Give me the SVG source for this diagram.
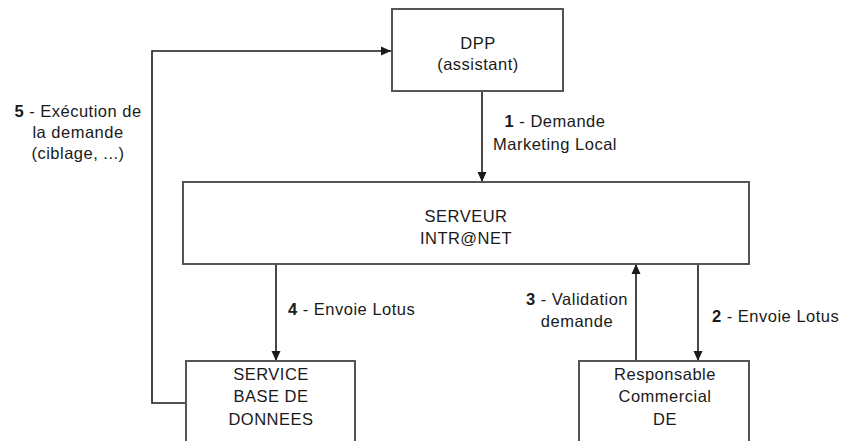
<svg xmlns="http://www.w3.org/2000/svg" width="842" height="441" viewBox="0 0 842 441">
<style>
.box{fill:#fff;stroke:#555;stroke-width:2}
.t{font-family:"Liberation Sans",Arial,sans-serif;font-size:16.5px;letter-spacing:0.5px;fill:#1a1a1a}
.m{text-anchor:middle}
.b{font-weight:bold}
.c{fill:none;stroke:#1a1a1a;stroke-width:1.6}
</style>
<defs>
<marker id="ah" viewBox="0 0 10 10" refX="10" refY="5" markerWidth="10" markerHeight="10" markerUnits="userSpaceOnUse" orient="auto">
<path d="M0,0.5 L10,5 L0,9.5 Z" fill="#1a1a1a"/>
</marker>
</defs>
<rect width="842" height="441" fill="#fff"/>
<g id="connectors">
<path class="c" d="M186,403 H152 V51 H391" marker-end="url(#ah)"/>
<path class="c" d="M482,91 V182" marker-end="url(#ah)"/>
<path class="c" d="M276,264 V361" marker-end="url(#ah)"/>
<path class="c" d="M636,361 V264" marker-end="url(#ah)"/>
<path class="c" d="M698,264 V361" marker-end="url(#ah)"/>
<text class="t m" x="78" y="117"><tspan class="b">5</tspan> - Exécution de</text>
<text class="t m" x="78" y="138">la demande</text>
<text class="t m" x="78" y="159">(ciblage, ...)</text>
<text class="t m" x="555" y="127"><tspan class="b">1</tspan> - Demande</text>
<text class="t m" x="555" y="150">Marketing Local</text>
<text class="t" x="288" y="315"><tspan class="b">4</tspan> - Envoie Lotus</text>
<text class="t m" x="577" y="305"><tspan class="b">3</tspan> - Validation</text>
<text class="t m" x="577" y="327">demande</text>
<text class="t" x="712" y="322"><tspan class="b">2</tspan> - Envoie Lotus</text>
</g>
<g id="dpp">
<rect class="box" x="392" y="9" width="171" height="82"/>
<text class="t m" x="478" y="49">DPP</text>
<text class="t m" x="478" y="70">(assistant)</text>
</g>
<g id="serveur">
<rect class="box" x="183" y="182" width="566" height="82"/>
<text class="t m" x="466" y="222">SERVEUR</text>
<text class="t m" x="466" y="244">INTR@NET</text>
</g>
<g id="service">
<rect class="box" x="186" y="361" width="169" height="100"/>
<text class="t m" x="271" y="380">SERVICE</text>
<text class="t m" x="271" y="402">BASE DE</text>
<text class="t m" x="271" y="425">DONNEES</text>
</g>
<g id="responsable">
<rect class="box" x="579" y="361" width="170" height="100"/>
<text class="t m" x="665" y="380">Responsable</text>
<text class="t m" x="665" y="402">Commercial</text>
<text class="t m" x="665" y="425">DE</text>
</g>
</svg>
